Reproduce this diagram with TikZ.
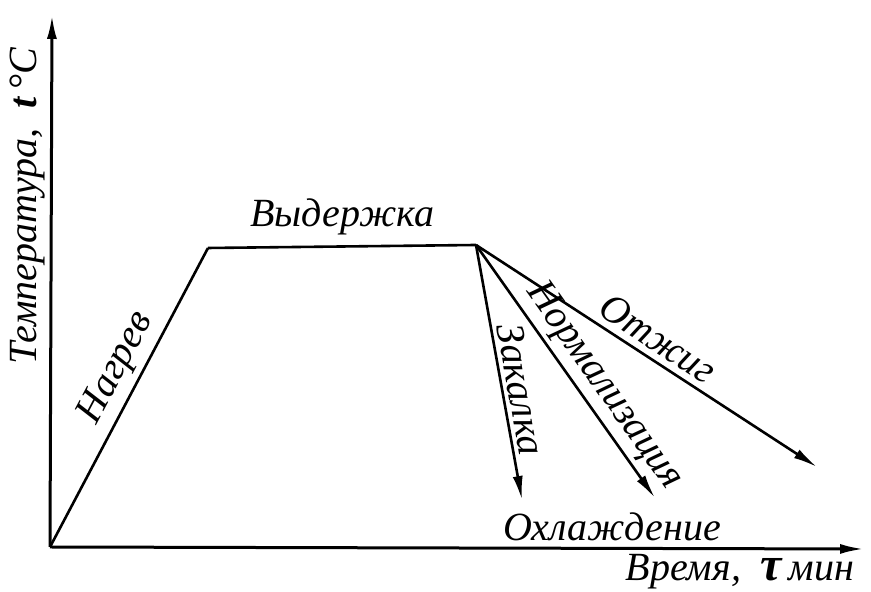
\documentclass[tikz,border=0pt]{standalone}
\usepackage{fontspec}
\setmainfont{Liberation Serif}
\usetikzlibrary{arrows.meta}
\usetikzlibrary{positioning}
\tikzset{>={Latex[length=12pt,width=5pt]}}
\tikzset{axis/.style={line width=1.5pt, ->},
  curve/.style={line width=1.3pt},
  cool/.style={line width=1.3pt, ->},
  lbl/.style={font=\fontsize{20}{24}\selectfont\itshape, inner sep=1pt}}

\begin{document}
\begin{tikzpicture}[x=0.5pt, y=0.5pt]
        \useasboundingbox (0,0) rectangle (871,592);

        \coordinate (O) at (50,45);
        \coordinate (YTop) at (52,577);
        \coordinate (XEnd) at (864,43);
        \coordinate (HoldStart) at (208,344);
        \coordinate (HoldEnd) at (476,347);
        \coordinate (QuenchEnd) at (522,92);
        \coordinate (NormEnd) at (655,94);
        \coordinate (AnnealEnd) at (817,125);

        \draw [axis] (O)--(YTop);
        \draw [axis] (O)--(XEnd);

        \draw [curve] (O)--(HoldStart)
            node [lbl, sloped, pos=0.56, above=2pt] (Heat) {Нагрев};
        \draw [curve] (HoldStart)--(HoldEnd)
            node [lbl, midway, above=4pt] (Hold) {Выдержка};

        \draw [cool] (HoldEnd)--(QuenchEnd)
            node [lbl, sloped, pos=0.58, above=1pt] (Quench) {Закалка};
        \draw [cool] (HoldEnd)--(NormEnd)
            node [lbl, sloped, pos=0.61, above=1pt] (Norm) {Нормализация};
        \draw [cool] (HoldEnd)--(AnnealEnd)
            node [lbl, sloped, pos=0.5, above=2pt] (Anneal) {Отжиг};

        \node [lbl] (Cool) at (612,65) {Охлаждение};
        \node [lbl] (Time) at (740,20) {Время,\ \ {\fontsize{24}{24}\selectfont\textbf{τ}}\,мин};
        \node [lbl, rotate=90] (Temp) at (28,386) {Температура,\ \ \textbf{t}\,°C};
    \end{tikzpicture}
\end{document}
